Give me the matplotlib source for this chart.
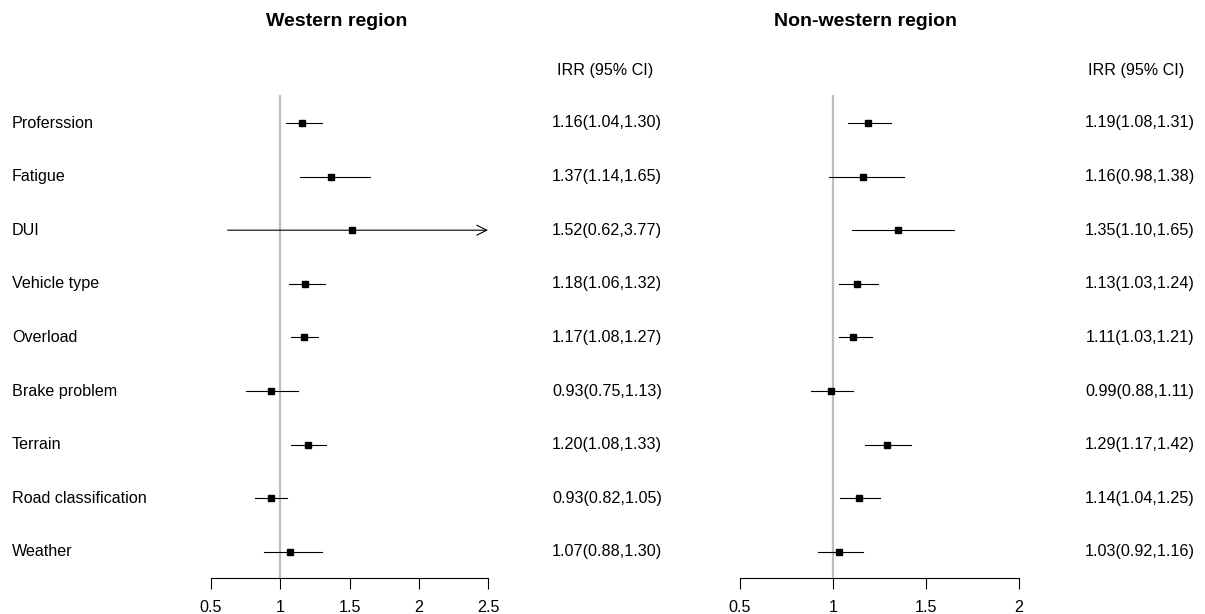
import matplotlib.pyplot as plt
from matplotlib.transforms import blended_transform_factory

plt.rcParams['font.family'] = ['Liberation Sans', 'DejaVu Sans']

# 資料
factors = ["Proferssion", "Fatigue", "DUI", "Vehicle type", "Overload",
           "Brake problem", "Terrain", "Road classification", "Weather"]

west_irr = [1.16, 1.37, 1.52, 1.18, 1.17, 0.93, 1.20, 0.93, 1.07]
west_lo = [1.04, 1.14, 0.62, 1.06, 1.08, 0.75, 1.08, 0.82, 0.88]
west_hi = [1.30, 1.65, 3.77, 1.32, 1.27, 1.13, 1.33, 1.05, 1.30]

nonwest_irr = [1.19, 1.16, 1.35, 1.13, 1.11, 0.99, 1.29, 1.14, 1.03]
nonwest_lo = [1.08, 0.98, 1.10, 1.03, 1.03, 0.88, 1.17, 1.04, 0.92]
nonwest_hi = [1.31, 1.38, 1.65, 1.24, 1.21, 1.11, 1.42, 1.25, 1.16]

west_ticks = [0.5, 1, 1.5, 2, 2.5]
nonwest_ticks = [0.5, 1, 1.5, 2]

W, H = 1205, 614
FS = 11.6
fig = plt.figure(figsize=(W / 100, H / 100), dpi=100)


def px_x(x):
    return x / W


def forest(left_px, right_px, irr, lo, hi, ticks, title, title_x, head_x, val_x, show_labels):
    top_px, bot_px = 95, 578
    ax = fig.add_axes([px_x(left_px), 1 - bot_px / H,
                       (right_px - left_px) / W, (bot_px - top_px) / H])
    xmin, xmax = ticks[0], ticks[-1]
    ax.set_xlim(xmin, xmax)
    # rows at 123 + 53.6*i pixels
    ax.set_ylim((bot_px - 123) / 53.6, (top_px - 123) / 53.6)

    ax.axvline(1, color='#bebebe', lw=1.6, zorder=1)

    for i in range(len(irr)):
        if hi[i] > xmax:
            ax.annotate("", xy=(xmax, i), xytext=(lo[i], i),
                        arrowprops=dict(arrowstyle='->', lw=0.8, color='black',
                                        mutation_scale=18, shrinkA=0, shrinkB=0))
        else:
            ax.plot([lo[i], hi[i]], [i, i], color='black', lw=0.8, zorder=2)
        ax.plot(irr[i], i, marker='s', color='black', markersize=5, zorder=3)

    for s in ['top', 'right', 'left']:
        ax.spines[s].set_visible(False)
    ax.spines['bottom'].set_linewidth(0.8)
    ax.spines['bottom'].set_bounds(xmin, xmax)
    ax.set_yticks([])
    ax.set_xticks(ticks)
    ax.set_xticklabels([f"{t:g}" for t in ticks])
    ax.tick_params(axis='x', length=8, width=0.8, labelsize=FS, pad=8)
    ax.patch.set_alpha(0)

    tr = blended_transform_factory(fig.transFigure, ax.transData)
    for i in range(len(irr)):
        ax.text(px_x(val_x), i, f"{irr[i]:.2f}({lo[i]:.2f},{hi[i]:.2f})",
                transform=tr, ha='center', va='center', fontsize=FS, clip_on=False)
        if show_labels:
            ax.text(px_x(12), i, factors[i], transform=tr, ha='left', va='center',
                    fontsize=FS, clip_on=False)

    fig.text(px_x(head_x), 1 - 70 / H, "IRR (95% CI)", ha='center', va='center', fontsize=FS)
    fig.text(px_x(title_x), 1 - 22 / H, title, ha='center', va='center',
             fontsize=14, fontweight='bold')


forest(211, 488, west_irr, west_lo, west_hi, west_ticks,
       "Western region", 337, 605, 607, True)
forest(740, 1019, nonwest_irr, nonwest_lo, nonwest_hi, nonwest_ticks,
       "Non-western region", 866, 1136, 1140, False)

fig.savefig("out.png", dpi=100)
